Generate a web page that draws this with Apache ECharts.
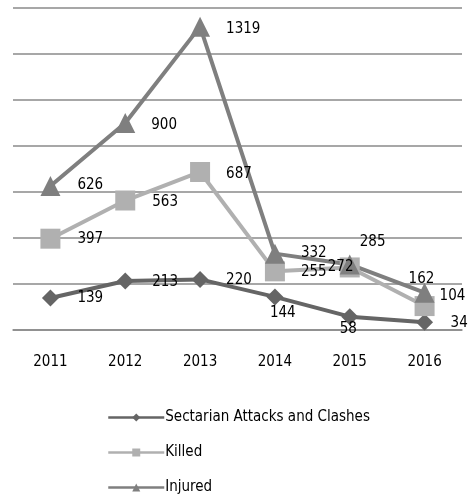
<!DOCTYPE html>
<html>
<head>
<meta charset="utf-8">
<script src="https://cdn.jsdelivr.net/npm/echarts@6/dist/echarts.min.js"></script>
<style>
  html, body { margin: 0; padding: 0; background: #fff; }
  #chart { width: 469px; height: 497px; }
</style>
</head>
<body>
<div id="chart"></div>
<script>
// Yearly figures
const years = ['2011', '2012', '2013', '2014', '2015', '2016'];
const attacks = [139, 213, 220, 144, 58, 34];
const killed = [397, 563, 687, 255, 272, 104];
const injured = [626, 900, 1319, 332, 285, 162];

// Label placement per point: [dx, dy] from the marker centre to the label's left/middle
const attacksLabelOffsets = [[27, 0], [27, 1], [26, 1], [-5, 16], [-10, 12], [26, 1]];
const killedLabelOffsets = [[27, 0], [27, 2], [26, 2], [26, 1], [-22, 0], [15, -10]];
const injuredLabelOffsets = [[27, -1], [26, 2], [26, 2], [26, -1], [10, -22], [-16, -14]];

const FONT = '"DejaVu Sans Condensed", "DejaVu Sans", sans-serif';
const FONT_SIZE = 15;

function withLabels(values, offsets) {
  return values.map((v, i) => ({
    value: v,
    label: { offset: offsets[i] }
  }));
}

function makeSeries(name, values, offsets, color, symbol, size) {
  return {
    name: name,
    type: 'line',
    data: withLabels(values, offsets),
    symbol: symbol,
    symbolSize: size,
    lineStyle: { color: color, width: 4 },
    itemStyle: { color: color },
    label: {
      show: true,
      position: 'inside',
      align: 'left',
      verticalAlign: 'middle',
      color: '#000',
      fontFamily: FONT,
      fontSize: FONT_SIZE
    },
    emphasis: { disabled: true },
    animation: false
  };
}

const chart = echarts.init(document.getElementById('chart'), null, { renderer: 'canvas' });

chart.setOption({
  backgroundColor: '#fff',
  animation: false,
  grid: { left: 13, right: 7, top: 8, bottom: 167 },
  xAxis: {
    type: 'category',
    data: years,
    boundaryGap: true,
    axisLine: { show: true, lineStyle: { color: '#8a8a8a', width: 1.5 } },
    axisTick: { show: false },
    axisLabel: { color: '#000', fontFamily: FONT, fontSize: FONT_SIZE, margin: 25 }
  },
  yAxis: {
    type: 'value',
    min: 0,
    max: 1400,
    interval: 200,
    axisLine: { show: false },
    axisTick: { show: false },
    axisLabel: { show: false },
    splitLine: { lineStyle: { color: '#8a8a8a', width: 1.5 } }
  },
  legend: {
    orient: 'vertical',
    left: 107,
    top: 410,
    height: 100,
    padding: 0,
    itemWidth: 56,
    itemHeight: 10,
    itemGap: 20,
    lineStyle: { width: 2.5 },
    textStyle: { color: '#000', fontFamily: FONT, fontSize: FONT_SIZE, padding: [0, 0, 0, -4] },
    data: ['Sectarian Attacks and Clashes', 'Killed', 'Injured']
  },
  series: [
    makeSeries('Sectarian Attacks and Clashes', attacks, attacksLabelOffsets, '#656565', 'diamond', 17),
    makeSeries('Killed', killed, killedLabelOffsets, '#b0b0b0', 'rect', 20),
    makeSeries('Injured', injured, injuredLabelOffsets, '#7f7f7f', 'triangle', 20)
  ]
});
</script>
</body>
</html>
